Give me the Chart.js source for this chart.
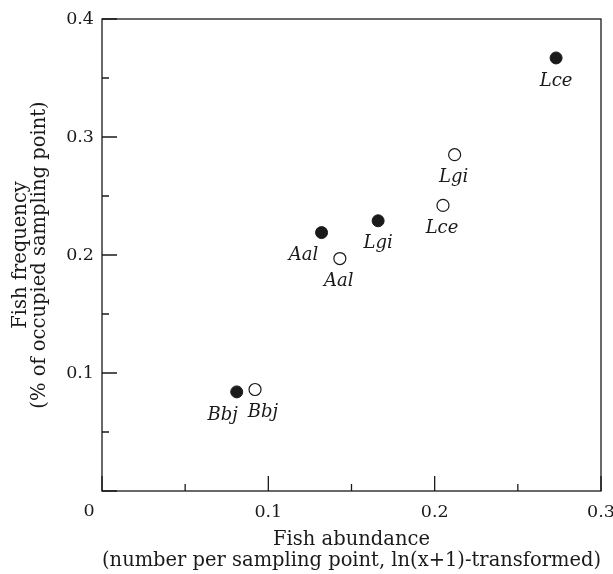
<!DOCTYPE html>
<html>
<head>
<meta charset="utf-8">
<script src="https://cdn.jsdelivr.net/npm/chart.js@4.4.1/dist/chart.umd.min.js"></script>
<style>
    html, body { margin: 0; padding: 0; background: #fff; }
    #box { width: 613px; height: 574px; }
</style>
</head>
<body>
<div id="box"><canvas id="grafico"></canvas></div>
<script>
// dati
const specie = ["Bbj", "Aal", "Lgi", "Lce"];
const pieniX = [0.081, 0.132, 0.166, 0.273];
const pieniY = [0.084, 0.219, 0.229, 0.367];
const vuotiNomi = ["Bbj", "Aal", "Lce", "Lgi"];
const vuotiX = [0.092, 0.143, 0.205, 0.212];
const vuotiY = [0.086, 0.197, 0.242, 0.285];
const tickX = [0.1, 0.2, 0.3];
const tickY = [0.1, 0.2, 0.3, 0.4];

const FONT = "'DejaVu Serif', 'Liberation Serif', serif";
const NERO = "#1a1a1a";

// spostamento orizzontale delle etichette (px)
const spostaPieni = [-14, -18, 0, 0];
const spostaVuoti = [8, -1, -1, -1];

function eMaggiore(v, lista) {
    return lista.some(t => Math.abs(t - v) < 1e-6);
}

const cornicePlugin = {
    id: 'cornice',
    afterDraw(chart) {
        const ctx = chart.ctx;
        const a = chart.chartArea;
        const xs = chart.scales.x;
        const ys = chart.scales.y;
        ctx.save();
        ctx.strokeStyle = NERO;
        ctx.lineWidth = 1.3;
        ctx.strokeRect(a.left, a.top, a.right - a.left, a.bottom - a.top);
        // tacche verso l'interno
        ctx.beginPath();
        xs.ticks.forEach(t => {
            const x = xs.getPixelForValue(t.value);
            const l = (eMaggiore(t.value, tickX) || t.value === 0) ? 15 : 7;
            ctx.moveTo(x, a.bottom);
            ctx.lineTo(x, a.bottom - l);
        });
        ys.ticks.forEach(t => {
            const y = ys.getPixelForValue(t.value);
            const l = (eMaggiore(t.value, tickY) || t.value === 0) ? 15 : 7;
            ctx.moveTo(a.left, y);
            ctx.lineTo(a.left + l, y);
        });
        ctx.stroke();
        // lo zero condiviso
        ctx.fillStyle = NERO;
        ctx.font = "17.5px " + FONT;
        ctx.textAlign = 'center';
        ctx.textBaseline = 'middle';
        ctx.fillText("0", xs.getPixelForValue(0) - 13, a.bottom + 20);
        // nomi delle specie sotto i punti
        ctx.font = "italic 18px " + FONT;
        const etichette = [[specie, spostaPieni], [vuotiNomi, spostaVuoti]];
        chart.data.datasets.forEach((ds, d) => {
            const meta = chart.getDatasetMeta(d);
            meta.data.forEach((p, i) => {
                ctx.fillText(etichette[d][0][i], p.x + etichette[d][1][i], p.y + 23);
            });
        });
        ctx.restore();
    }
};

const ctxGrafico = document.getElementById('grafico').getContext('2d');
const grafico = new Chart(ctxGrafico, {
    type: 'scatter',
    data: {
        datasets: [
            {
                label: 'pieni',
                data: pieniX.map((x, i) => ({ x: x, y: pieniY[i] })),
                pointRadius: 6,
                pointBackgroundColor: NERO,
                pointBorderColor: NERO,
                pointBorderWidth: 1
            },
            {
                label: 'vuoti',
                data: vuotiX.map((x, i) => ({ x: x, y: vuotiY[i] })),
                pointRadius: 6,
                pointBackgroundColor: '#fff',
                pointBorderColor: NERO,
                pointBorderWidth: 1.2
            }
        ]
    },
    options: {
        responsive: true,
        maintainAspectRatio: false,
        animation: false,
        layout: { padding: { top: 19, right: 12, left: 0, bottom: 0 } },
        plugins: {
            legend: { display: false },
            tooltip: { enabled: false }
        },
        scales: {
            x: {
                type: 'linear',
                min: 0,
                max: 0.3,
                grid: { display: false },
                border: { display: false },
                afterFit: s => {
                    s.height = 83;
                    s.paddingLeft = 0;
                    s.paddingRight = 0;
                },
                ticks: {
                    stepSize: 0.05,
                    autoSkip: false,
                    maxRotation: 0,
                    padding: 3,
                    color: NERO,
                    font: { family: FONT, size: 17.5 },
                    callback: v => eMaggiore(v, tickX) ? v.toFixed(1) : ''
                },
                title: {
                    display: true,
                    text: ['Fish abundance', '(number per sampling point, ln(x+1)-transformed)'],
                    color: NERO,
                    font: { family: FONT, size: 19.5, lineHeight: '21px' },
                    padding: { top: 0, bottom: 3 }
                }
            },
            y: {
                type: 'linear',
                min: 0,
                max: 0.4,
                grid: { display: false },
                border: { display: false },
                afterFit: s => { s.width = 102; },
                ticks: {
                    stepSize: 0.05,
                    autoSkip: false,
                    padding: 0,
                    color: NERO,
                    font: { family: FONT, size: 17.5 },
                    callback: v => eMaggiore(v, tickY) ? v.toFixed(1) : ''
                },
                title: {
                    display: true,
                    text: ['Fish frequency', '(% of occupied sampling point)'],
                    color: NERO,
                    font: { family: FONT, size: 19.5, lineHeight: '19px' },
                    padding: { top: 11, bottom: 0 }
                }
            }
        }
    },
    plugins: [cornicePlugin]
});
</script>
</body>
</html>
